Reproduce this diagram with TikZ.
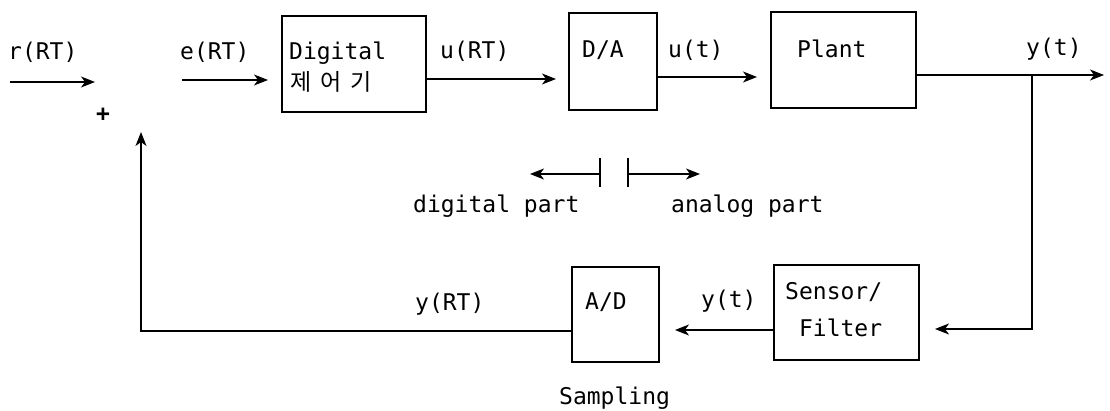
\documentclass[tikz,border=0pt]{standalone}
\usepackage{fontspec}
\setmainfont{DejaVu Sans Mono}
\newfontfamily\krfont{Noto Sans CJK KR}
\usetikzlibrary{arrows.meta}
\begin{document}
\begin{tikzpicture}[x=1pt,y=-1pt,
  blk/.style={draw,line width=1.1pt,inner sep=0pt},
  txt/.style={anchor=base west,inner sep=0pt,font=\fontsize{23}{26}\selectfont},
  ln/.style={line width=1.1pt},
  arr/.style={line width=1.1pt,-{Stealth[length=14pt,width=11pt,inset=4pt]}}]
\useasboundingbox (0,0) rectangle (1110,411);
% blocks
\node[blk,minimum width=144pt,minimum height=96pt] (dig) at (354,64) {};
\node[blk,minimum width=88pt,minimum height=97pt] (da) at (613,61.5) {};
\node[blk,minimum width=145pt,minimum height=96pt] (plant) at (843.5,60) {};
\node[blk,minimum width=87pt,minimum height=95pt] (ad) at (615.5,314.5) {};
\node[blk,minimum width=145pt,minimum height=95pt] (sens) at (846.5,312.5) {};
% block texts
\node[txt] (digT) at (289,60) {Digital};
\node[txt] (digK) at (290,91) {\krfont 제\hspace{9pt}어\hspace{9pt}기};
\node[txt] (daT) at (582,58) {D/A};
\node[txt] (plT) at (797,58) {Plant};
\node[txt] (adT) at (585,309) {A/D};
\node[txt] (seT) at (785,300) {Sensor/};
\node[txt] (fiT) at (785,337) {\hphantom{x}Filter};
\node[txt] (samp) at (559,404) {Sampling};
% signal labels
\node[txt] (rL) at (8,60) {r(RT)};
\node[txt] (eL) at (180,60) {e(RT)};
\node[txt] (uRL) at (440,59) {u(RT)};
\node[txt] (utL) at (668,58) {u(t)};
\node[txt] (ytL) at (1026,56) {y(t)};
\node[txt] (yRL) at (415,310) {y(RT)};
\node[txt] (yt2L) at (701,308) {y(t)};
\node[txt] (plus) at (96,122) {\textbf{+}};
\node[txt] (dpL) at (413,213) {digital part};
\node[txt] (apL) at (671,213) {analog part};
% coordinates
\coordinate (rIn) at (10,82);
\coordinate (rTip) at (95,82);
\coordinate (eIn) at (182,80);
\coordinate (eTip) at (268,80);
\coordinate (uRTip) at (556,79);
\coordinate (utTip) at (757,77);
\coordinate (yOut) at (1104,75);
\coordinate (br) at (1032,75);
\coordinate (brD) at (1032,329);
\coordinate (sensTip) at (935,329);
\coordinate (adTip) at (675,330);
\coordinate (fbC) at (141,331);
\coordinate (fbTip) at (141,132);
\coordinate (tL) at (600,158);
\coordinate (tR) at (628,158);
\coordinate (dTip) at (530,174);
\coordinate (aTip) at (700,174);
% connectors
\draw[arr] (rIn) -- (rTip);
\draw[arr] (eIn) -- (eTip);
\draw[arr] (dig.east |- uRTip) -- (uRTip);
\draw[arr] (da.east |- utTip) -- (utTip);
\draw[arr] (plant.east |- yOut) -- (yOut);
\draw[arr] (br) -- (brD) -- (sensTip);
\draw[arr] (sens.west |- adTip) -- (adTip);
\draw[arr] (ad.west |- fbC) -- (fbC) -- (fbTip);
% digital/analog divider
\draw[ln] (tL) -- ++(0,29);
\draw[ln] (tR) -- ++(0,29);
\draw[arr] (tL |- dTip) -- (dTip);
\draw[arr] (tR |- aTip) -- (aTip);
\end{tikzpicture}
\end{document}
